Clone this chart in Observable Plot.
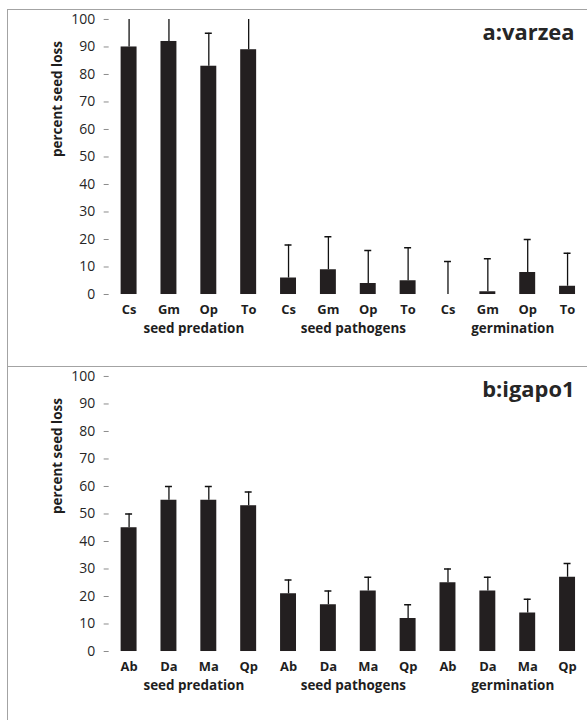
<!DOCTYPE html>
<html>
<head>
<meta charset="utf-8">
<script src="https://cdn.jsdelivr.net/npm/d3@7"></script>
<script src="https://cdn.jsdelivr.net/npm/@observablehq/plot@0.6"></script>
<style>
  html, body { margin: 0; padding: 0; background: #fff; }
  body { width: 587px; height: 720px; overflow: hidden; position: relative; }
  .panel { position: absolute; left: 7px; width: 580px; border-left: 1px solid #a3a3a3; border-top: 1px solid #a3a3a3; overflow: hidden; }
  #pa { top: 9px; height: 357px; }
  #pb { top: 366px; height: 354px; }
  .panel svg { display: block; }
</style>
</head>
<body>
<div id="pa" class="panel"></div>
<div id="pb" class="panel"></div>
<script>
const groups = ["seed predation", "seed pathogens", "germination"];
const yTicks = [0, 10, 20, 30, 40, 50, 60, 70, 80, 90, 100];
const yLabel = "percent seed loss";

// panel a: varzea
const titleA = "a:varzea";
const speciesA = ["Cs", "Gm", "Op", "To"];
const meanA = [90, 92, 83, 89, 6, 9, 4, 5, 0, 1, 8, 3];
const topA = [102, 104, 95, 101, 18, 21, 16, 17, 12, 13, 20, 15];

// panel b: igapo1
const titleB = "b:igapo1";
const speciesB = ["Ab", "Da", "Ma", "Qp"];
const meanB = [45, 55, 55, 53, 21, 17, 22, 12, 25, 22, 14, 27];
const topB = [50, 60, 60, 58, 26, 22, 27, 17, 30, 27, 19, 32];

function panel(species, means, tops, title) {
  const rows = [];
  groups.forEach((g, gi) => species.forEach((s, si) => {
    const i = gi * species.length + si;
    rows.push({key: g + "|" + s, species: s, group: g, mean: means[i], top: tops[i]});
  }));
  const keys = rows.map(d => d.key);
  const groupRows = groups.map((g, gi) => ({group: g, key: keys[gi * species.length + 1]}));
  const ink = "#1e1e1e";
  return Plot.plot({
    width: 582, height: 356,
    marginLeft: 101, marginRight: 1, marginTop: 9, marginBottom: 71,
    style: {fontFamily: "'Open Sans', sans-serif", color: ink, background: "transparent", overflow: "visible"},
    x: {type: "band", domain: keys, padding: 0, axis: null},
    y: {domain: [0, 100], axis: null},
    marks: [
      Plot.axisY({ticks: yTicks, tickSize: 5, tickPadding: 9, stroke: "#8c8c8c", fill: "#262626", fontSize: 14, line: true, label: null}),
      Plot.axisX({tickSize: 0, tickPadding: 10, tickFormat: k => k.split("|")[1], fontSize: 13, fontWeight: "bold", fill: ink, label: null}),
      Plot.barY(rows, {x: "key", y: "mean", fill: "#231f20", insetLeft: 12, insetRight: 12}),
      Plot.ruleX(rows, {x: "key", y1: "mean", y2: "top", stroke: "#111", strokeWidth: 1.3, clip: true}),
      Plot.tickY(rows, {x: "key", y: "top", stroke: "#111", strokeWidth: 1.5, insetLeft: 16.5, insetRight: 16.5, clip: true}),
      Plot.text(groupRows, {x: "key", text: "group", frameAnchor: "bottom", dx: 25, dy: 39, fontSize: 13.5, fontWeight: "bold", fill: ink}),
      Plot.text([yLabel], {text: d => d, frameAnchor: "left", rotate: -90, dx: -52, fontSize: 13.5, fontWeight: "bold", fill: ink}),
      Plot.text([title], {text: d => d, frameAnchor: "top-right", textAnchor: "end", dx: -13, dy: 5, fontSize: 22, fontWeight: "bold", fill: "#262626"})
    ]
  });
}

document.getElementById("pa").appendChild(panel(speciesA, meanA, topA, titleA));
document.getElementById("pb").appendChild(panel(speciesB, meanB, topB, titleB));
</script>
</body>
</html>
